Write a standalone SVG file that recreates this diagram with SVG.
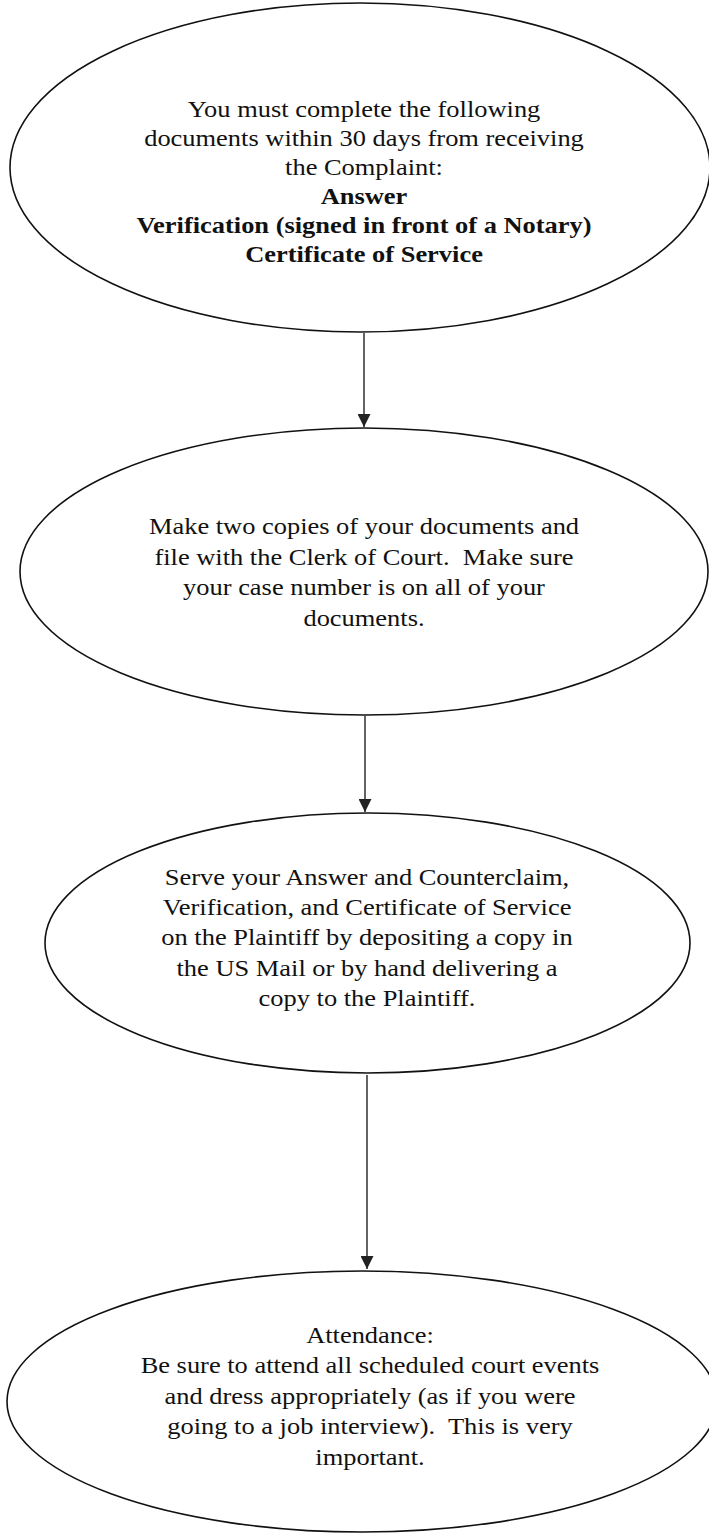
<svg xmlns="http://www.w3.org/2000/svg" width="709" height="1533" viewBox="0 0 709 1533">
  <style>
    .shape { fill: #ffffff; stroke: #111111; stroke-width: 1.6; }
    .conn { stroke: #222222; stroke-width: 1.4; fill: none; }
    .t { font-family: "Liberation Serif", "Times New Roman", serif; font-size: 23px; fill: #111111; text-anchor: middle; white-space: pre; }
    .b { font-weight: bold; }
  </style>
  <defs>
    <marker id="arrow" markerUnits="userSpaceOnUse" viewBox="0 0 14 14" refX="14" refY="7" markerWidth="14" markerHeight="13" orient="auto">
      <path d="M0,0 L14,7 L0,14 z" fill="#222222"/>
    </marker>
  </defs>
  <rect width="709" height="1533" fill="#ffffff"/>

  <g id="node-complete-documents">
    <ellipse class="shape" cx="360" cy="167.5" rx="350" ry="164.5"/>
    <g transform="translate(364,0) scale(1.15,1)">
      <text class="t" x="0" y="117">You must complete the following</text>
      <text class="t" x="0" y="146">documents within 30 days from receiving</text>
      <text class="t" x="0" y="175">the Complaint:</text>
      <text class="t b" x="0" y="204">Answer</text>
      <text class="t b" x="0" y="233">Verification (signed in front of a Notary)</text>
      <text class="t b" x="0" y="262">Certificate of Service</text>
    </g>
  </g>

  <g id="node-make-copies">
    <ellipse class="shape" cx="364" cy="571.5" rx="344" ry="143.5"/>
    <g transform="translate(364,0) scale(1.15,1)">
      <text class="t" x="0" y="534">Make two copies of your documents and</text>
      <text class="t" x="0" y="565" xml:space="preserve">file with the Clerk of Court.  Make sure</text>
      <text class="t" x="0" y="595">your case number is on all of your</text>
      <text class="t" x="0" y="626">documents.</text>
    </g>
  </g>

  <g id="node-serve">
    <ellipse class="shape" cx="367.5" cy="943" rx="322.5" ry="130"/>
    <g transform="translate(367,0) scale(1.15,1)">
      <text class="t" x="0" y="885">Serve your Answer and Counterclaim,</text>
      <text class="t" x="0" y="915">Verification, and Certificate of Service</text>
      <text class="t" x="0" y="945">on the Plaintiff by depositing a copy in</text>
      <text class="t" x="0" y="976">the US Mail or by hand delivering a</text>
      <text class="t" x="0" y="1006">copy to the Plaintiff.</text>
    </g>
  </g>

  <g id="node-attendance">
    <ellipse class="shape" cx="362" cy="1401.5" rx="355" ry="130.5"/>
    <g transform="translate(370,0) scale(1.15,1)">
      <text class="t" x="0" y="1343">Attendance:</text>
      <text class="t" x="0" y="1373">Be sure to attend all scheduled court events</text>
      <text class="t" x="0" y="1404">and dress appropriately (as if you were</text>
      <text class="t" x="0" y="1434" xml:space="preserve">going to a job interview).  This is very</text>
      <text class="t" x="0" y="1465">important.</text>
    </g>
  </g>

  <g id="connectors">
    <line class="conn" x1="364" y1="333" x2="364" y2="427" marker-end="url(#arrow)"/>
    <line class="conn" x1="365" y1="716" x2="365" y2="812" marker-end="url(#arrow)"/>
    <line class="conn" x1="367" y1="1075" x2="367" y2="1269" marker-end="url(#arrow)"/>
  </g>
</svg>
